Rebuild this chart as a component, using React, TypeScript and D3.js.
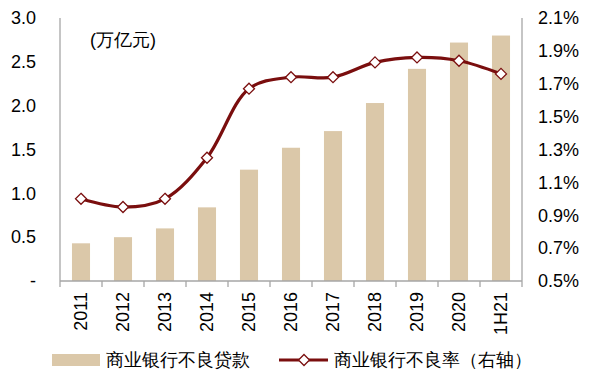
import React from "react";
import * as d3 from "d3";

const categories = ["2011", "2012", "2013", "2014", "2015", "2016", "2017", "2018", "2019", "2020", "1H21"];
const nplBalance = [0.43, 0.50, 0.60, 0.84, 1.27, 1.52, 1.71, 2.03, 2.42, 2.72, 2.80];
const nplRatio = [1.00, 0.95, 1.00, 1.25, 1.67, 1.74, 1.74, 1.83, 1.86, 1.84, 1.76];
const leftTicks = [0, 0.5, 1.0, 1.5, 2.0, 2.5, 3.0];
const rightTicks = [0.5, 0.7, 0.9, 1.1, 1.3, 1.5, 1.7, 1.9, 2.1];
const unitLabel = "(万亿元)";
const barLegend = "商业银行不良贷款";
const lineLegend = "商业银行不良率（右轴）";

const W = 596, H = 379;
const left = 60, right = 522, top = 18, bottom = 281;
const BAR = "#DBC8A9";
const LINE = "#7A0E0E";
const AXIS = "#A6A6A6";
const FONT = "Liberation Sans, Arial, sans-serif";

export default function App() {
  const x = d3.scaleBand().domain(categories).range([left, right]).paddingInner(0.57).paddingOuter(0.285);
  const xb = d3.scaleBand().domain(categories).range([left, right]);
  const yL = d3.scaleLinear().domain([0, 3]).range([bottom, top]);
  const yR = d3.scaleLinear().domain([0.5, 2.1]).range([bottom, top]);
  const line = d3.line<number>()
    .x((_, i) => xb(categories[i])! + xb.bandwidth() / 2)
    .y((d) => yR(d))
    .curve(d3.curveCatmullRom.alpha(0.5));
  const diamond = (cx: number, cy: number, r: number) =>
    `M${cx},${cy - r}L${cx + r},${cy}L${cx},${cy + r}L${cx - r},${cy}Z`;

  const edges = categories.map((c) => xb(c)!).concat([right]);

  return (
    <svg width={W} height={H} style={{ position: "absolute", left: 0, top: 0, background: "#fff" }} fontFamily={FONT}>
      {categories.map((c, i) => (
        <rect key={c} x={x(c)} y={yL(nplBalance[i])} width={x.bandwidth()} height={bottom - yL(nplBalance[i])} fill={BAR} />
      ))}
      <line x1={left} x2={left} y1={top} y2={bottom} stroke={AXIS} strokeWidth={1.3} />
      <line x1={right} x2={right} y1={top} y2={bottom} stroke={AXIS} strokeWidth={1.3} />
      <line x1={left} x2={right} y1={bottom} y2={bottom} stroke={AXIS} strokeWidth={1.3} />
      {edges.map((e, i) => (
        <line key={i} x1={e} x2={e} y1={bottom} y2={bottom + 6} stroke={AXIS} strokeWidth={1.3} />
      ))}
      {leftTicks.map((t) => (
        <text key={t} x={36} y={yL(t)} dy="0.35em" textAnchor="end" fontSize={18} fill="#000">
          {t === 0 ? "-" : t.toFixed(1)}
        </text>
      ))}
      {rightTicks.map((t) => (
        <text key={t} x={538} y={yR(t)} dy="0.35em" textAnchor="start" fontSize={18} fill="#000">
          {t.toFixed(1) + "%"}
        </text>
      ))}
      {categories.map((c) => {
        const cx = xb(c)! + xb.bandwidth() / 2;
        return (
          <text key={c} transform={`translate(${cx},${292}) rotate(-90)`} dy="0.35em" textAnchor="end" fontSize={18} fill="#000">
            {c}
          </text>
        );
      })}
      <text x={90} y={40} dy="0.35em" fontSize={18} fill="#000">{unitLabel}</text>
      <path d={line(nplRatio) || ""} fill="none" stroke={LINE} strokeWidth={3.2} />
      {nplRatio.map((v, i) => {
        const cx = xb(categories[i])! + xb.bandwidth() / 2;
        return <path key={i} d={diamond(cx, yR(v), 5.5)} fill="#fff" stroke={LINE} strokeWidth={1.3} />;
      })}
      <rect x={52} y={354} width={48} height={12} fill={BAR} />
      <text x={106} y={360} dy="0.35em" fontSize={18} fill="#000">{barLegend}</text>
      <line x1={279} x2={328} y1={360} y2={360} stroke={LINE} strokeWidth={3.2} />
      <path d={diamond(304, 360, 5.5)} fill="#fff" stroke={LINE} strokeWidth={1.3} />
      <text x={334} y={360} dy="0.35em" fontSize={18} fill="#000">{lineLegend}</text>
    </svg>
  );
}
